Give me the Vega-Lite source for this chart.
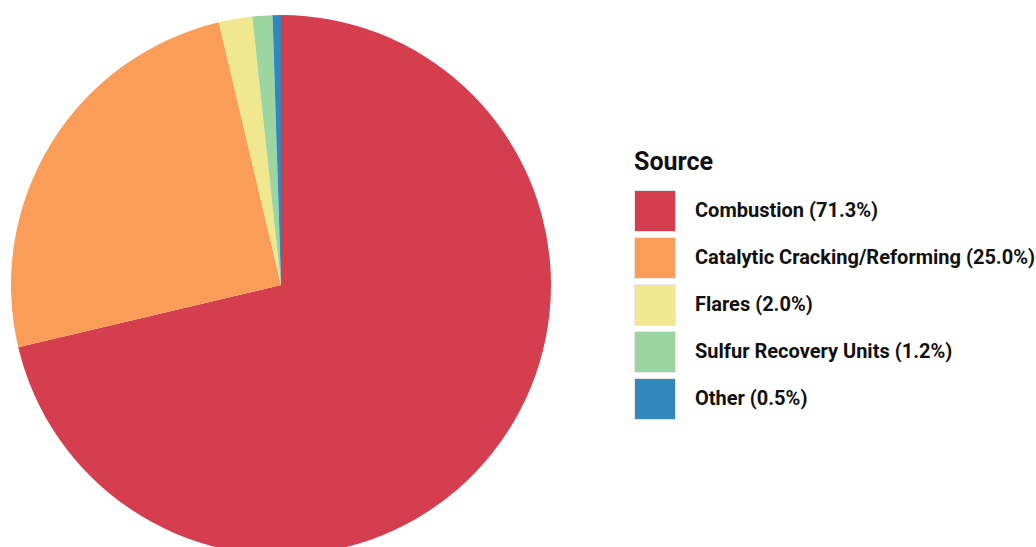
{
  "$schema": "https://vega.github.io/schema/vega-lite/v6.json",
  "width": 562,
  "height": 570,
  "padding": 0,
  "autosize": {"type": "pad"},
  "background": "white",
  "view": {"stroke": null},
  "data": {
    "values": [
      {"source": "Combustion (71.3%)", "share": 71.3, "rank": 1},
      {"source": "Catalytic Cracking/Reforming (25.0%)", "share": 25.0, "rank": 2},
      {"source": "Flares (2.0%)", "share": 2.0, "rank": 3},
      {"source": "Sulfur Recovery Units (1.2%)", "share": 1.2, "rank": 4},
      {"source": "Other (0.5%)", "share": 0.5, "rank": 5}
    ]
  },
  "mark": {"type": "arc", "outerRadius": 270},
  "encoding": {
    "theta": {"field": "share", "type": "quantitative", "stack": true},
    "order": {"field": "rank", "type": "quantitative"},
    "color": {
      "field": "source",
      "type": "nominal",
      "sort": ["Combustion (71.3%)", "Catalytic Cracking/Reforming (25.0%)", "Flares (2.0%)", "Sulfur Recovery Units (1.2%)", "Other (0.5%)"],
      "scale": {
        "domain": ["Combustion (71.3%)", "Catalytic Cracking/Reforming (25.0%)", "Flares (2.0%)", "Sulfur Recovery Units (1.2%)", "Other (0.5%)"],
        "range": ["#d53e4f", "#f99d59", "#f0e78e", "#9dd5a1", "#3288bd"]
      },
      "legend": {
        "title": "Source",
        "orient": "none",
        "legendX": 634,
        "legendY": 150,
        "titleFont": "Roboto",
        "titleFontSize": 25,
        "titleFontWeight": "bold",
        "titleColor": "#111111",
        "titlePadding": 15,
        "labelFont": "Roboto",
        "labelFontSize": 20,
        "labelFontWeight": "bold",
        "labelColor": "#111111",
        "labelOffset": 19,
        "labelLimit": 500,
        "symbolType": "square",
        "symbolSize": 1681,
        "symbolStrokeColor": "#e8e8e8",
        "symbolStrokeWidth": 1,
        "symbolOpacity": 1,
        "rowPadding": 1
      }
    }
  }
}
